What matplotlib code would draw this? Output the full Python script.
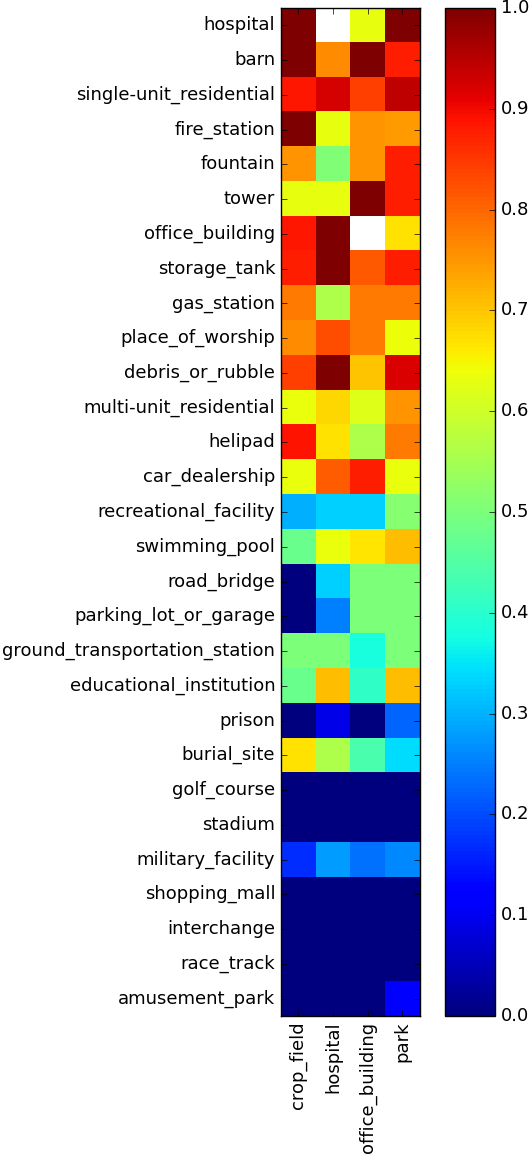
import numpy as np
import matplotlib
matplotlib.use("Agg")
import matplotlib.pyplot as plt

# rows (scene categories) and columns
row_labels = [
    "hospital", "barn", "single-unit_residential", "fire_station", "fountain",
    "tower", "office_building", "storage_tank", "gas_station", "place_of_worship",
    "debris_or_rubble", "multi-unit_residential", "helipad", "car_dealership",
    "recreational_facility", "swimming_pool", "road_bridge", "parking_lot_or_garage",
    "ground_transportation_station", "educational_institution", "prison",
    "burial_site", "golf_course", "stadium", "military_facility", "shopping_mall",
    "interchange", "race_track", "amusement_park",
]
col_labels = ["crop_field", "hospital", "office_building", "park"]

# values per column (NaN = blank cell)
crop_field = [1.00, 1.00, 0.885, 1.00, 0.75, 0.63, 0.885, 0.875, 0.78, 0.76,
              0.84, 0.635, 0.89, 0.635, 0.297, 0.48, 0.0, 0.0, 0.50, 0.48,
              0.0, 0.67, 0.0, 0.0, 0.17, 0.0, 0.0, 0.0, 0.0]
hospital = [np.nan, 0.76, 0.923, 0.63, 0.505, 0.63, 1.00, 1.00, 0.56, 0.825,
            1.00, 0.68, 0.67, 0.81, 0.33, 0.635, 0.33, 0.25, 0.50, 0.71,
            0.09, 0.56, 0.0, 0.0, 0.28, 0.0, 0.0, 0.0, 0.0]
office_building = [0.63, 1.00, 0.84, 0.75, 0.75, 1.00, np.nan, 0.815, 0.78, 0.78,
                   0.70, 0.62, 0.56, 0.875, 0.33, 0.665, 0.50, 0.50, 0.38, 0.41,
                   0.0, 0.44, 0.0, 0.0, 0.235, 0.0, 0.0, 0.0, 0.0]
park = [1.00, 0.875, 0.945, 0.745, 0.875, 0.875, 0.67, 0.875, 0.78, 0.64,
        0.92, 0.75, 0.78, 0.635, 0.515, 0.71, 0.50, 0.50, 0.50, 0.71,
        0.225, 0.34, 0.0, 0.0, 0.258, 0.0, 0.0, 0.0, 0.11]

data = np.ma.masked_invalid(np.column_stack([crop_field, hospital, office_building, park]))

plt.style.use("classic")
fig = plt.figure(figsize=(5.3, 11.56), dpi=100, facecolor="white")
ax = fig.add_axes([0.530, 0.1211, 0.262, 0.872])
cax = fig.add_axes([0.8396, 0.1211, 0.0943, 0.872])

cmap = plt.get_cmap("jet").copy()
cmap.set_bad("white")
im = ax.imshow(data, cmap=cmap, vmin=0, vmax=1, interpolation="nearest", aspect="auto")

ax.set_xticks(range(len(col_labels)))
ax.set_xticklabels(col_labels, rotation=90)
ax.set_yticks(range(len(row_labels)))
ax.set_yticklabels(row_labels)
ax.tick_params(labelsize=13)

cb = fig.colorbar(im, cax=cax, ticks=np.arange(0, 1.01, 0.1))
cb.ax.tick_params(labelsize=13)

fig.savefig("out.png", dpi=100, facecolor="white")
